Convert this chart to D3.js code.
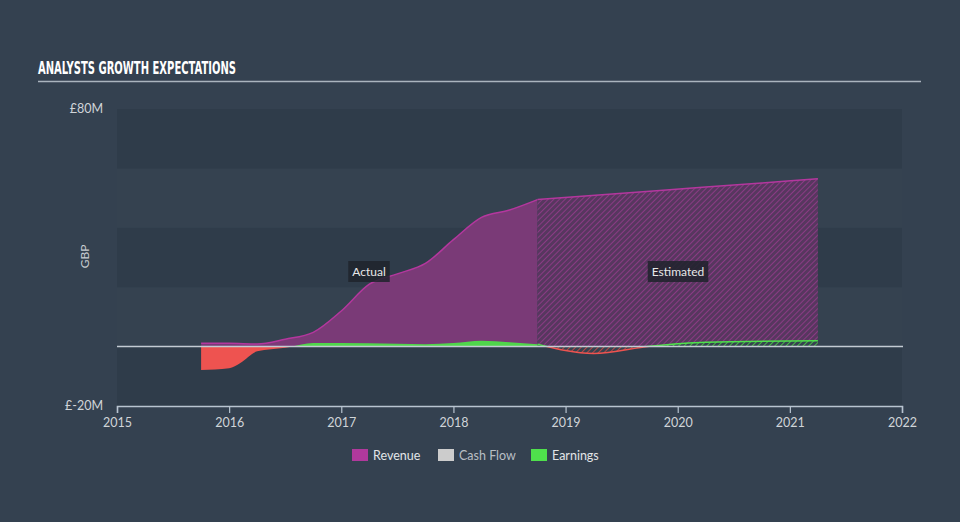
<!DOCTYPE html>
<html>
<head>
<meta charset="utf-8">
<script src="https://cdn.jsdelivr.net/npm/d3@7"></script>
<style>
  html, body { margin: 0; padding: 0; background: #344150; }
  svg { display: block; }
</style>
</head>
<body>
<svg id="chart" width="960" height="522"></svg>
<script>
// ---- Data ----
const xTickYears = [2015, 2016, 2017, 2018, 2019, 2020, 2021, 2022];
const yTickLabels = ["£80M", "£-20M"];
const yTickValues = [80, -20];
const bandEdges = [-20, 0, 20, 40, 60, 80];

// Revenue (£M) – actual and estimated
const revenueActualX = [2015.75, 2016.0, 2016.25, 2016.5, 2016.75, 2017.0, 2017.25, 2017.5, 2017.75, 2018.0, 2018.25, 2018.5, 2018.75];
const revenueActualY = [1.1, 1.1, 0.9, 2.5, 4.8, 12.0, 21.0, 24.5, 28.0, 36.0, 43.5, 46.0, 49.5];
const revenueEstX = [2018.75, 2019.75, 2020.75, 2021.25];
const revenueEstY = [49.5, 52.3, 55.1, 56.5];

// Earnings (£M) – actual and estimated
const earningsActualX = [2015.75, 2016.0, 2016.1, 2016.25, 2016.5, 2016.75, 2017.0, 2017.5, 2017.75, 2018.0, 2018.25, 2018.5, 2018.75];
const earningsActualY = [-7.9, -7.3, -5.5, -1.6, -0.4, 1.2, 1.2, 1.0, 0.8, 1.2, 2.0, 1.5, 0.8];
const earningsEstX = [2018.75, 2019.25, 2019.75, 2020.25, 2021.25];
const earningsEstY = [0.8, -2.3, 0.1, 1.5, 2.0];

// Cash flow – no values shown
const cashFlowX = [];
const cashFlowY = [];

const legendNames = ["Revenue", "Cash Flow", "Earnings"];
const legendColors = ["#b0399c", "#cccccc", "#4fe04c"];

// ---- Layout ----
const svg = d3.select("#chart");
const W = 960, H = 522;
const m = { left: 117, right: 902, top: 109, bottom: 406 };

const x = d3.scaleLinear().domain([2015, 2022]).range([m.left, m.right]);
const y = d3.scaleLinear().domain([-20, 80]).range([m.bottom, m.top]);

svg.append("rect").attr("width", W).attr("height", H).attr("fill", "#344150");

// Title
svg.append("text")
  .attr("x", 38).attr("y", 74)
  .attr("fill", "#ffffff")
  .attr("font-family", "'Liberation Sans Narrow', 'DejaVu Sans Condensed', 'Roboto', sans-serif")
  .attr("font-weight", "bold")
  .attr("font-size", 17)
  .attr("textLength", 198).attr("lengthAdjust", "spacingAndGlyphs")
  .text("ANALYSTS GROWTH EXPECTATIONS");
svg.append("line")
  .attr("x1", 38).attr("x2", 921).attr("y1", 81.5).attr("y2", 81.5)
  .attr("stroke", "#aab4be").attr("stroke-width", 1.5);

// Bands
const bands = d3.pairs(bandEdges);
svg.append("g").selectAll("rect").data(bands).join("rect")
  .attr("x", m.left).attr("width", m.right - m.left)
  .attr("y", d => y(d[1])).attr("height", d => y(d[0]) - y(d[1]))
  .attr("fill", (d, i) => i % 2 === 0 ? "#2f3c4a" : "#354250");

// Patterns
const defs = svg.append("defs");
function hatch(id, bg, line) {
  const p = defs.append("pattern").attr("id", id)
    .attr("patternUnits", "userSpaceOnUse").attr("width", 4).attr("height", 4)
    .attr("patternTransform", "rotate(45)");
  p.append("rect").attr("width", 4).attr("height", 4).attr("fill", bg);
  p.append("line").attr("x1", 0).attr("y1", 0).attr("x2", 0).attr("y2", 4)
    .attr("stroke", line).attr("stroke-width", 2);
}
hatch("hatchRev", "#57375f", "#8a3b84");
hatch("hatchGreen", "#35424f", "#49b84a");
hatch("hatchRed", "#35424f", "#b84848");

const zeroY = y(0);
defs.append("clipPath").attr("id", "clipPos").append("rect")
  .attr("x", 0).attr("y", 0).attr("width", W).attr("height", zeroY);
defs.append("clipPath").attr("id", "clipNeg").append("rect")
  .attr("x", 0).attr("y", zeroY).attr("width", W).attr("height", H - zeroY);

const zip = (xs, ys) => xs.map((v, i) => [v, ys[i]]);
const area = d3.area().x(d => x(d[0])).y0(zeroY).y1(d => y(d[1])).curve(d3.curveMonotoneX);
const line = d3.line().x(d => x(d[0])).y(d => y(d[1])).curve(d3.curveMonotoneX);

const revA = zip(revenueActualX, revenueActualY);
const revE = zip(revenueEstX, revenueEstY);
const earnA = zip(earningsActualX, earningsActualY);
const earnE = zip(earningsEstX, earningsEstY);

// Revenue
svg.append("path").attr("d", area(revA)).attr("fill", "#7a3a77");
svg.append("path").attr("d", line(revA)).attr("fill", "none").attr("stroke", "#b4379e").attr("stroke-width", 1.5);
svg.append("path").attr("d", area(revE)).attr("fill", "url(#hatchRev)");
svg.append("path").attr("d", line(revE)).attr("fill", "none").attr("stroke", "#b4379e").attr("stroke-width", 1.5);

// Earnings actual
svg.append("path").attr("d", area(earnA)).attr("fill", "#4fd64b").attr("clip-path", "url(#clipPos)");
svg.append("path").attr("d", area(earnA)).attr("fill", "#ee5350").attr("clip-path", "url(#clipNeg)");
// Earnings estimated
svg.append("path").attr("d", area(earnE)).attr("fill", "url(#hatchGreen)").attr("clip-path", "url(#clipPos)");
svg.append("path").attr("d", area(earnE)).attr("fill", "url(#hatchRed)").attr("clip-path", "url(#clipNeg)");
svg.append("path").attr("d", line(earnE)).attr("fill", "none").attr("stroke", "#4fe04c").attr("stroke-width", 1.5).attr("clip-path", "url(#clipPos)");
svg.append("path").attr("d", line(earnE)).attr("fill", "none").attr("stroke", "#ee5350").attr("stroke-width", 1.5).attr("clip-path", "url(#clipNeg)");

// Cash flow (empty)
if (cashFlowX.length) {
  svg.append("path").attr("d", line(zip(cashFlowX, cashFlowY))).attr("fill", "none").attr("stroke", "#cccccc");
}

// Zero line
svg.append("line").attr("x1", m.left).attr("x2", m.right + 1).attr("y1", zeroY).attr("y2", zeroY)
  .attr("stroke", "#c3cbd3").attr("stroke-width", 1.5);

// Y labels
const labelFont = "Lato, 'Open Sans', sans-serif";
svg.append("g").selectAll("text").data(yTickValues).join("text")
  .attr("x", 103).attr("y", d => y(d) + 4)
  .attr("text-anchor", "end").attr("fill", "#d0d4d8")
  .attr("font-family", labelFont).attr("font-size", 12.5)
  .text((d, i) => yTickLabels[i]);
svg.append("text")
  .attr("transform", `translate(89,${(m.top + m.bottom) / 2 - 1}) rotate(-90)`)
  .attr("text-anchor", "middle").attr("fill", "#c8ccd0")
  .attr("font-family", labelFont).attr("font-size", 12)
  .text("GBP");

// X axis
const xAxis = svg.append("g").attr("transform", `translate(0,${m.bottom})`)
  .call(d3.axisBottom(x).tickValues(xTickYears).tickFormat(d3.format("d")).tickSize(7).tickSizeOuter(7));
xAxis.select(".domain").attr("stroke", "#b8c4d0").attr("stroke-width", 1.5);
xAxis.selectAll(".tick line").attr("stroke", "#b8c4d0").attr("stroke-width", 1.2);
xAxis.selectAll(".tick text").attr("fill", "#d0d4d8").attr("font-family", labelFont)
  .attr("font-size", 12.5).attr("dy", "0.9em");

// Actual / Estimated labels
function tag(cx, cy, txt) {
  const g = svg.append("g");
  const t = g.append("text").attr("x", cx).attr("y", cy + 4).attr("text-anchor", "middle")
    .attr("fill", "#e8e8e8").attr("font-family", labelFont).attr("font-size", 12).text(txt);
  const bb = t.node().getBBox();
  g.insert("rect", "text").attr("x", bb.x - 4).attr("y", cy - 10.5)
    .attr("width", bb.width + 8).attr("height", 21).attr("fill", "#1e232c").attr("opacity", 0.85);
}
tag(369, 271.5, "Actual");
tag(678, 271.5, "Estimated");

// Legend
const legendX = [352, 438, 531];
const lg = svg.append("g").selectAll("g").data(legendNames).join("g")
  .attr("transform", (d, i) => `translate(${legendX[i]},449)`);
lg.append("rect").attr("width", 16).attr("height", 12).attr("fill", (d, i) => legendColors[i]);
lg.append("text").attr("x", 21).attr("y", 11).attr("fill", (d, i) => i === 1 ? "#b8bec4" : "#e2e5e8")
  .attr("font-family", labelFont).attr("font-size", 12.5)
  .text(d => d);
</script>
</body>
</html>
